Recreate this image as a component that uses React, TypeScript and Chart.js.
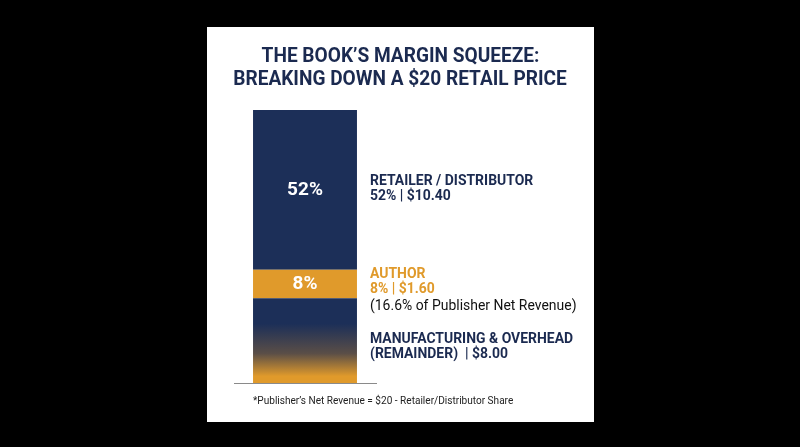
import React, { useEffect, useRef } from "react";
import { Chart, registerables } from "chart.js";

Chart.register(...registerables);

const categories = ["$20 Retail Price"];
const segmentNames = ["Manufacturing & Overhead", "Author", "Retailer / Distributor"];
// segment heights as drawn in the picture (in dollars of a $20 bar)
const segmentHeights = [6.2, 2.1, 11.7];
const sharePct = ["", "8%", "52%"];
const titleLines = ["THE BOOK\u2019S MARGIN SQUEEZE:", "BREAKING DOWN A $20 RETAIL PRICE"];
const retailerLines = ["RETAILER / DISTRIBUTOR", "52% | $10.40"];
const authorLines = ["AUTHOR", "8% | $1.60", "(16.6% of Publisher Net Revenue)"];
const manufacturingLines = ["MANUFACTURING & OVERHEAD", "(REMAINDER)  | $8.00"];
const footnote = "*Publisher\u2019s Net Revenue = $20 - Retailer/Distributor Share";

const NAVY = "#1c2f58";
const TEXT_NAVY = "#1b2a50";
const ORANGE = "#e09a2b";

function drawText(ctx: CanvasRenderingContext2D, text: string, x: number, y: number, font: string, color: string, align: CanvasTextAlign, sx = 1) {
  ctx.save();
  ctx.font = font;
  ctx.fillStyle = color;
  ctx.textBaseline = "middle";
  ctx.textAlign = align;
  ctx.translate(x, y);
  ctx.scale(sx, 1);
  ctx.fillText(text, 0, 0);
  ctx.restore();
}

const decorPlugin = {
  id: "decor",
  beforeDraw(chart: any) {
    const ctx = chart.ctx as CanvasRenderingContext2D;
    ctx.save();
    ctx.fillStyle = "#000";
    ctx.fillRect(0, 0, chart.width, chart.height);
    ctx.fillStyle = "#fff";
    ctx.fillRect(207, 27, 387, 395);
    ctx.restore();
  },
  afterDraw(chart: any) {
    const ctx = chart.ctx as CanvasRenderingContext2D;
    const y = chart.scales.y;
    const meta0 = chart.getDatasetMeta(0).data[0];
    const cx = meta0.x;
    const bounds: number[] = [0];
    let acc = 0;
    segmentHeights.forEach((v) => { acc += v; bounds.push(acc); });
    const centers = segmentHeights.map((_, i) => (y.getPixelForValue(bounds[i]) + y.getPixelForValue(bounds[i + 1])) / 2);

    // title
    drawText(ctx, titleLines[0], 400.5, 56.5, "bold 20px Roboto", TEXT_NAVY, "center", 0.955);
    drawText(ctx, titleLines[1], 400, 79.5, "bold 20px Roboto", TEXT_NAVY, "center", 0.955);

    // bar labels
    sharePct.forEach((t, i) => {
      if (t) drawText(ctx, t, cx, centers[i], "bold 19px Roboto", "#fff", "center");
    });

    const lx = 370;
    const bold = "bold 15px Roboto";
    const s = 0.93;
    drawText(ctx, retailerLines[0], lx, centers[2] - 8.5, bold, TEXT_NAVY, "left", s);
    drawText(ctx, retailerLines[1], lx, centers[2] + 6.5, bold, TEXT_NAVY, "left", s);
    drawText(ctx, authorLines[0], lx, centers[1] - 10, bold, ORANGE, "left", s);
    drawText(ctx, authorLines[1], lx, centers[1] + 5, bold, ORANGE, "left", s);
    drawText(ctx, authorLines[2], lx, centers[1] + 22, "15px Roboto", "#111", "left", s);
    drawText(ctx, manufacturingLines[0], lx, centers[0] - 1.5, bold, TEXT_NAVY, "left", s);
    drawText(ctx, manufacturingLines[1], lx, centers[0] + 14, bold, TEXT_NAVY, "left", s);

    drawText(ctx, footnote, 253, 401, "11.5px Roboto", "#222", "left", 0.875);
  },
};

export default function App() {
  const ref = useRef<HTMLCanvasElement>(null);
  useEffect(() => {
    document.body.style.margin = "0";
    const canvas = ref.current!;
    const chart = new Chart(canvas, {
      type: "bar",
      data: {
        labels: categories,
        datasets: segmentNames.map((name, i) => ({
          label: name,
          data: [segmentHeights[i]],
          backgroundColor: i === 0
            ? (c: any) => {
                const ch = c.chart;
                const ys = ch.scales?.y;
                if (!ys || !ch.chartArea) return NAVY;
                const top = ys.getPixelForValue(segmentHeights[0]);
                const bot = ys.getPixelForValue(0);
                if (!isFinite(top) || !isFinite(bot) || top === bot) return NAVY;
                const g = ch.ctx.createLinearGradient(0, top, 0, bot);
                g.addColorStop(0, NAVY);
                g.addColorStop(0.3, NAVY);
                g.addColorStop(0.65, "#5a4e47");
                g.addColorStop(0.92, ORANGE);
                g.addColorStop(1, ORANGE);
                return g;
              }
            : i === 1 ? ORANGE : NAVY,
          borderWidth: 0,
          barPercentage: 0.732,
          categoryPercentage: 1,
        })),
      },
      options: {
        animation: false,
        responsive: false,
        layout: { padding: { left: 234, right: 424, top: 110, bottom: 64 } },
        plugins: { legend: { display: false }, tooltip: { enabled: false }, title: { display: false } },
        scales: {
          x: {
            stacked: true,
            grid: { display: false, drawTicks: false },
            ticks: { display: false },
            border: { display: true, color: "#8a8a8a", width: 1 },
          },
          y: {
            stacked: true,
            display: false,
            min: 0,
            max: 20,
          },
        },
      },
      plugins: [decorPlugin],
    });
    return () => chart.destroy();
  }, []);
  return (
    <div style={{ position: "fixed", left: 0, top: 0, width: 800, height: 447, background: "#000" }}>
      <canvas ref={ref} width={800} height={447} />
    </div>
  );
}
